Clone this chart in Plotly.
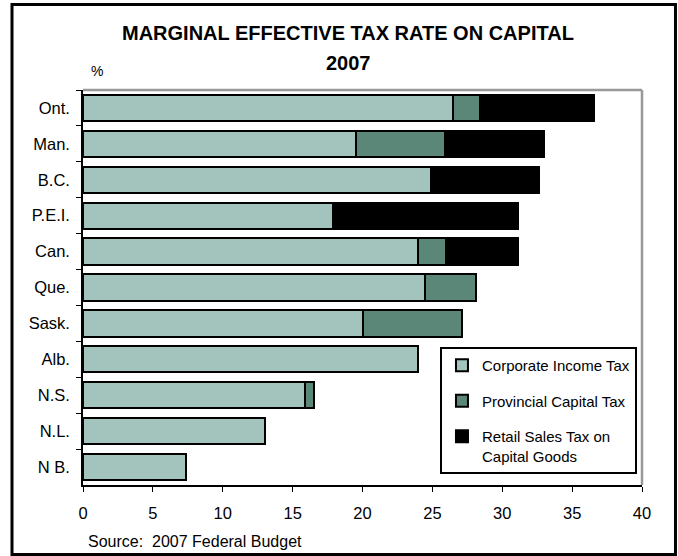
import plotly.graph_objects as go

# Provinces (top to bottom) and the three components of the marginal effective tax rate (%)
provinces = ["Ont.", "Man.", "B.C.", "P.E.I.", "Can.", "Que.", "Sask.", "Alb.", "N.S.", "N.L.", "N B."]
corporate_income_tax = [26.5, 19.5, 24.9, 17.9, 24.0, 24.5, 20.0, 24.0, 15.9, 13.0, 7.4]
provincial_capital_tax = [1.9, 6.4, 0.0, 0.0, 2.0, 3.6, 7.1, 0.0, 0.6, 0.0, 0.0]
retail_sales_tax = [8.2, 7.1, 7.7, 13.2, 5.1, 0.0, 0.0, 0.0, 0.0, 0.0, 0.0]
x_ticks = [0, 5, 10, 15, 20, 25, 30, 35, 40]

series = [
    ("Corporate Income Tax", corporate_income_tax, "#A2C4BD"),
    ("Provincial Capital Tax", provincial_capital_tax, "#5A8777"),
    ("Retail Sales Tax on<br>Capital Goods", retail_sales_tax, "#000000"),
]

FONT = "Arial, Liberation Sans, sans-serif"

fig = go.Figure()
for i, (name, vals, color) in enumerate(series):
    fig.add_trace(go.Bar(
        y=provinces,
        x=[v if v > 0 else None for v in vals],
        name=name,
        orientation="h",
        legendgroup=f"g{i}",
        marker=dict(color=color, line=dict(color="#000000", width=2)),
    ))

fig.update_layout(
    width=678,
    height=556,
    barmode="stack",
    bargap=0.27,
    paper_bgcolor="white",
    plot_bgcolor="white",
    margin=dict(l=83, r=36, t=90, b=71),
    font=dict(family=FONT, size=16, color="#000000"),
    showlegend=True,
    legend=dict(
        x=0.6386, y=0.3493, xanchor="left", yanchor="top",
        bgcolor="white", bordercolor="#000000", borderwidth=2,
        font=dict(family=FONT, size=15, color="#000000"),
        traceorder="grouped", tracegroupgap=13, valign="top",
    ),
    xaxis=dict(
        range=[0, 40], tickvals=x_ticks, ticktext=[str(t) for t in x_ticks],
        ticks="outside", ticklen=5, tickcolor="#000000", tickwidth=1,
        showline=True, linecolor="#000000", linewidth=1.5,
        showgrid=False, zeroline=False, ticklabelstandoff=7,
        tickfont=dict(size=16.5),
    ),
    yaxis=dict(
        type="category", categoryorder="array", categoryarray=provinces,
        autorange="reversed", tickson="boundaries",
        ticks="outside", ticklen=5, tickcolor="#000000", tickwidth=1,
        showline=True, linecolor="#000000", linewidth=1.5,
        showgrid=False, zeroline=False, ticklabelstandoff=8,
        tickfont=dict(size=16.5),
    ),
    shapes=[
        # grey plot-area border on the top and right
        dict(type="line", xref="paper", yref="paper", x0=0, x1=1.0, y0=1, y1=1,
             line=dict(color="#999999", width=2.5), layer="below"),
        dict(type="line", xref="paper", yref="paper", x0=1.0, x1=1.0, y0=0, y1=1,
             line=dict(color="#999999", width=2.5), layer="below"),
        # outer chart frame
        dict(type="rect", xref="paper", yref="paper",
             x0=-0.1270, x1=1.0599, y0=-0.1759, y1=1.2165,
             line=dict(color="#000000", width=3)),
    ],
    annotations=[
        dict(text="<b>MARGINAL EFFECTIVE TAX RATE ON CAPITAL</b>", xref="paper", yref="paper",
             x=0.4741, y=1.1443, xanchor="center", yanchor="middle", showarrow=False,
             font=dict(size=20)),
        dict(text="<b>2007</b>", xref="paper", yref="paper",
             x=0.4741, y=1.068, xanchor="center", yanchor="middle", showarrow=False,
             font=dict(size=20)),
        dict(text="%", xref="paper", yref="paper",
             x=0.025, y=1.047, xanchor="center", yanchor="middle", showarrow=False,
             font=dict(size=14)),
        dict(text="Source:  2007 Federal Budget", xref="paper", yref="paper",
             x=0.0054, y=-0.1418, xanchor="left", yanchor="middle", showarrow=False,
             font=dict(size=16)),
    ],
)

fig.write_html("out.html")
